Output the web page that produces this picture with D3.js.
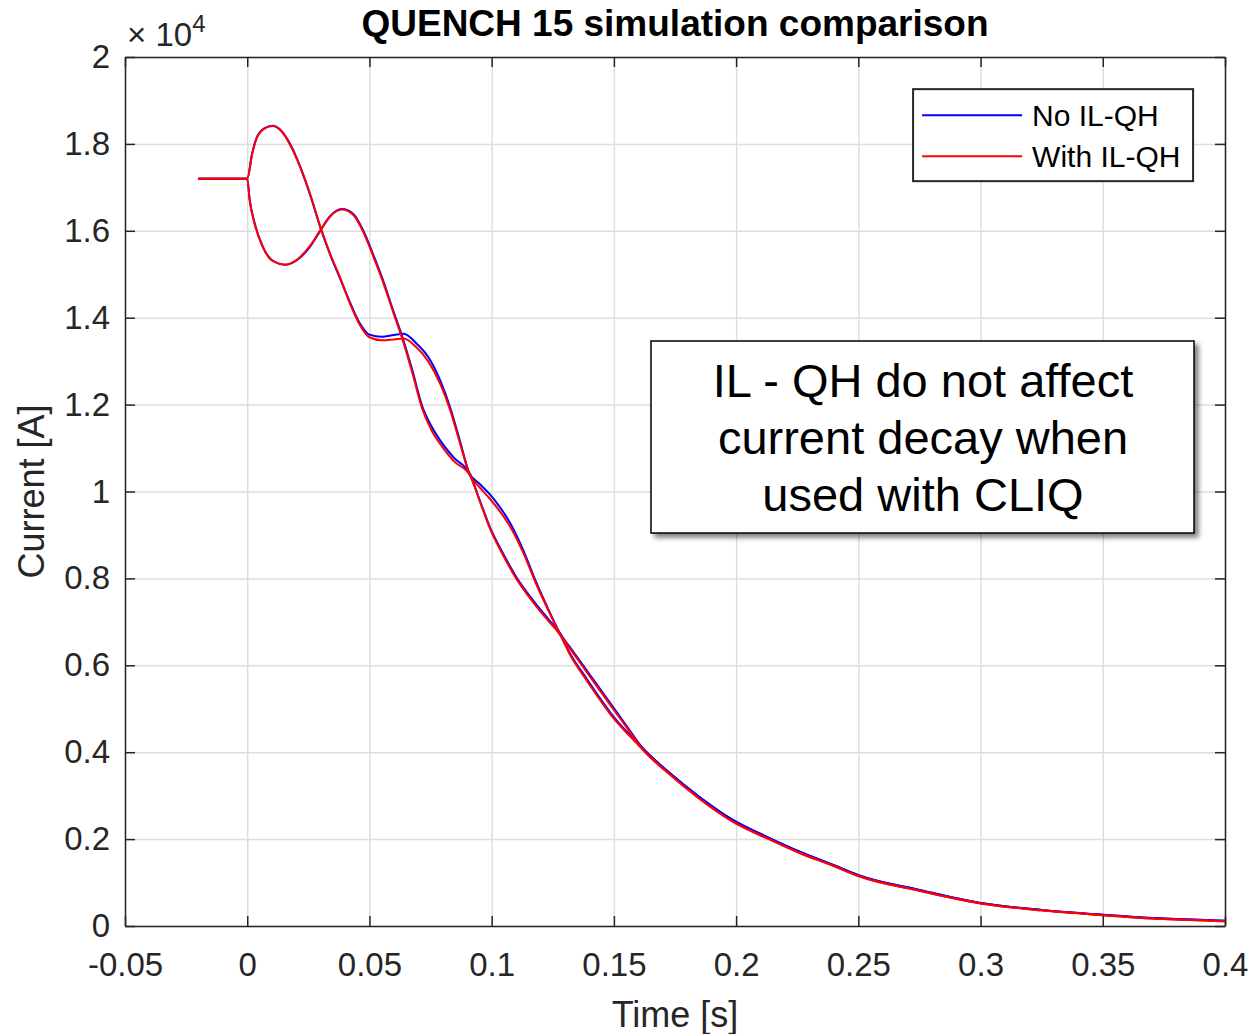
<!DOCTYPE html>
<html>
<head>
<meta charset="utf-8">
<script src="https://cdn.jsdelivr.net/npm/d3@7"></script>
<style>
  body { margin: 0; background: #fff; }
  svg { font-family: "Liberation Sans", Arial, sans-serif; }
  .grid line { stroke: #dedede; stroke-width: 1.5; }
  .grid path { stroke-width: 0; }
  .axis text { fill: #262626; font-size: 33px; }
  .axis line, .axis path { stroke: #262626; stroke-width: 1.5; }
  .curve { fill: none; stroke-width: 2; }
</style>
</head>
<body>
<svg class="chart" width="1256" height="1034"></svg>
<script>
// time axis values (s) and currents (A)
var timeA = [-0.02, 0, 0.002, 0.004, 0.007, 0.0105, 0.014, 0.018, 0.022, 0.026, 0.03, 0.034, 0.038, 0.042, 0.046,
  0.05, 0.055, 0.06, 0.064, 0.069, 0.074, 0.079, 0.083, 0.087, 0.091, 0.095, 0.099, 0.103, 0.108, 0.113, 0.118,
  0.124, 0.128, 0.132, 0.136, 0.143, 0.149, 0.155, 0.162, 0.172, 0.185, 0.199, 0.213, 0.226, 0.24, 0.25, 0.275,
  0.3, 0.325, 0.35, 0.375, 0.4];
var noQH_A = [17200, 17200, 17780, 18160, 18360, 18420, 18300, 17950, 17420, 16780, 16060, 15440, 14900, 14360, 13880,
  13610, 13560, 13600, 13630, 13420, 13100, 12550, 11940, 11170, 10410, 10180, 9950, 9670, 9230, 8640, 7940,
  7190, 6730, 6420, 6110, 5560, 5090, 4620, 4080, 3560, 2970, 2430, 2040, 1710, 1400, 1170, 830,
  530, 370, 260, 170, 120];
var withQH_A = [17200, 17200, 17760, 18150, 18350, 18410, 18290, 17930, 17430, 16800, 16080, 15460, 14920, 14330, 13840,
  13550, 13480, 13500, 13520, 13330, 13000, 12470, 11880, 11120, 10390, 10100, 9850, 9570, 9150, 8580, 7900,
  7170, 6710, 6390, 6070, 5520, 5050, 4590, 4050, 3530, 2930, 2390, 2010, 1680, 1380, 1150, 810,
  520, 360, 250, 160, 110];

var timeB = [-0.02, 0, 0.001, 0.003, 0.0065, 0.0105, 0.0155, 0.02, 0.0255, 0.03, 0.034, 0.0387, 0.0435, 0.0475,
  0.0515, 0.0555, 0.0595, 0.0635, 0.0675, 0.0715, 0.0755, 0.0795, 0.0845, 0.091, 0.0955, 0.0995, 0.105, 0.11,
  0.117, 0.1235, 0.128, 0.132, 0.139, 0.1445, 0.15, 0.1565, 0.162, 0.172, 0.185, 0.199, 0.213, 0.226, 0.24,
  0.25, 0.275, 0.3, 0.325, 0.35, 0.375, 0.4];
var noQH_B = [17200, 17200, 16720, 16180, 15620, 15310, 15220, 15310, 15620, 16010, 16340, 16500, 16380, 16000,
  15460, 14870, 14200, 13550, 12800, 11980, 11490, 11130, 10780, 10410, 9740, 9150, 8540, 8040,
  7490, 7040, 6730, 6280, 5680, 5230, 4810, 4400, 4080, 3560, 2970, 2430, 2040, 1710, 1400,
  1170, 830, 530, 370, 260, 170, 120];
var withQH_B = [17200, 17200, 16700, 16170, 15610, 15300, 15220, 15320, 15640, 16020, 16340, 16490, 16360, 15970,
  15420, 14830, 14160, 13500, 12740, 11920, 11400, 11050, 10700, 10380, 9720, 9120, 8500, 8000,
  7450, 7000, 6700, 6250, 5640, 5190, 4770, 4370, 4050, 3530, 2930, 2390, 2010, 1680, 1380,
  1150, 810, 520, 360, 250, 160, 110];

var xTicks = [-0.05, 0, 0.05, 0.1, 0.15, 0.2, 0.25, 0.3, 0.35, 0.4];
var yTicks = [0, 2000, 4000, 6000, 8000, 10000, 12000, 14000, 16000, 18000, 20000];
var legendNames = ["No IL-QH", "With IL-QH"];
var noteLines = ["IL - QH do not affect", "current decay when", "used with CLIQ"];

var svg = d3.select(".chart"),
    margin = {top: 57, right: 31, bottom: 108, left: 125},
    width = +svg.attr("width") - margin.left - margin.right,
    height = +svg.attr("height") - margin.top - margin.bottom,
    g = svg.append("g").attr("transform", "translate(" + margin.left + "," + margin.top + ")");

var x = d3.scaleLinear().domain([-0.05, 0.4]).range([0, width]);
var y = d3.scaleLinear().domain([0, 20000]).range([height, 0]);

function zip(t, v) { return t.map(function(d, i) { return {time: d, value: v[i]}; }); }

var series = [
  {data: zip(timeA, noQH_A), color: "#0000ff"},
  {data: zip(timeB, noQH_B), color: "#0000ff"},
  {data: zip(timeA, withQH_A), color: "#ff0000"},
  {data: zip(timeB, withQH_B), color: "#ff0000"}
];

// gridlines
g.append("g").attr("class", "grid")
    .attr("transform", "translate(0," + height + ")")
    .call(d3.axisBottom(x).tickValues(xTicks).tickSize(-height).tickFormat(""));
g.append("g").attr("class", "grid")
    .call(d3.axisLeft(y).tickValues(yTicks).tickSize(-width).tickFormat(""));

g.append("clipPath").attr("id", "clip")
  .append("rect").attr("width", width).attr("height", height);

var line = d3.line()
    .curve(d3.curveMonotoneX)
    .x(function(d) { return x(d.time); })
    .y(function(d) { return y(d.value); });

g.append("g").attr("clip-path", "url(#clip)")
  .selectAll("path")
  .data(series)
  .enter().append("path")
    .attr("class", "curve")
    .attr("stroke", function(d) { return d.color; })
    .attr("d", function(d) { return line(d.data); });

// axes, ticks pointing inward on all four sides
var fmtX = function(d) { return d === 0 ? "0" : String(+d.toFixed(2)); };
var fmtY = function(d) { return String(+(d / 10000).toFixed(1)); };

g.append("g").attr("class", "axis")
    .attr("transform", "translate(0," + height + ")")
    .call(d3.axisBottom(x).tickValues(xTicks).tickSizeInner(-10).tickSizeOuter(0).tickPadding(27).tickFormat(fmtX));
g.append("g").attr("class", "axis")
    .call(d3.axisTop(x).tickValues(xTicks).tickSizeInner(-10).tickSizeOuter(0).tickFormat(""));
g.append("g").attr("class", "axis")
    .call(d3.axisLeft(y).tickValues(yTicks).tickSizeInner(-10).tickSizeOuter(0).tickPadding(15).tickFormat(fmtY));
g.append("g").attr("class", "axis")
    .attr("transform", "translate(" + width + ",0)")
    .call(d3.axisRight(y).tickValues(yTicks).tickSizeInner(-10).tickSizeOuter(0).tickFormat(""));

g.selectAll(".axis .domain").attr("stroke-width", 2);

// exponent label
var expo = g.append("text")
    .attr("x", 2).attr("y", -11)
    .attr("fill", "#262626").style("font-size", "33px");
expo.append("tspan").text("\u00d7 10");
expo.append("tspan").attr("dy", -14).style("font-size", "24px").text("4");

// titles
svg.append("text")
    .attr("x", margin.left + width / 2).attr("y", 36)
    .attr("text-anchor", "middle").attr("font-weight", "bold")
    .style("font-size", "37px").attr("fill", "#000")
    .text("QUENCH 15 simulation comparison");
svg.append("text")
    .attr("x", margin.left + width / 2).attr("y", 1027)
    .attr("text-anchor", "middle").style("font-size", "36px").attr("fill", "#262626")
    .text("Time [s]");
svg.append("text")
    .attr("transform", "translate(44," + (margin.top + height / 2) + ") rotate(-90)")
    .attr("text-anchor", "middle").style("font-size", "36px").attr("fill", "#262626")
    .text("Current [A]");

// legend
var legend = g.append("g").attr("transform", "translate(" + x(0.2724) + "," + y(19260) + ")");
legend.append("rect")
    .attr("width", 280).attr("height", 92)
    .attr("fill", "#fff").attr("stroke", "#262626").attr("stroke-width", 2);
legend.selectAll("line")
  .data(legendNames)
  .enter().append("line")
    .attr("x1", 9).attr("x2", 109)
    .attr("y1", function(d, i) { return 26 + i * 41; })
    .attr("y2", function(d, i) { return 26 + i * 41; })
    .attr("stroke", function(d, i) { return i ? "#ff0000" : "#0000ff"; })
    .attr("stroke-width", 2);
legend.selectAll("text")
  .data(legendNames)
  .enter().append("text")
    .attr("x", 119)
    .attr("y", function(d, i) { return 37 + i * 41; })
    .style("font-size", "30px").attr("fill", "#000")
    .text(function(d) { return d; });

// annotation box
var defs = svg.append("defs");
var shadow = defs.append("filter").attr("id", "shadow")
    .attr("x", "-10%").attr("y", "-10%").attr("width", "130%").attr("height", "130%");
shadow.append("feGaussianBlur").attr("in", "SourceAlpha").attr("stdDeviation", 2.5);
shadow.append("feOffset").attr("dx", 4).attr("dy", 4).attr("result", "blur");
shadow.append("feComponentTransfer").append("feFuncA").attr("type", "linear").attr("slope", 0.5);
var merge = shadow.append("feMerge");
merge.append("feMergeNode");
merge.append("feMergeNode").attr("in", "SourceGraphic");

var note = svg.append("g").attr("transform", "translate(651,341)");
note.append("rect")
    .attr("width", 543).attr("height", 192)
    .attr("fill", "#fff").attr("stroke", "#000").attr("stroke-width", 1.5)
    .attr("filter", "url(#shadow)");
note.selectAll("text")
  .data(noteLines)
  .enter().append("text")
    .attr("x", 272)
    .attr("y", function(d, i) { return 56 + i * 57; })
    .attr("text-anchor", "middle")
    .style("font-size", "47px").attr("fill", "#000")
    .text(function(d) { return d; });
</script>
</body>
</html>
